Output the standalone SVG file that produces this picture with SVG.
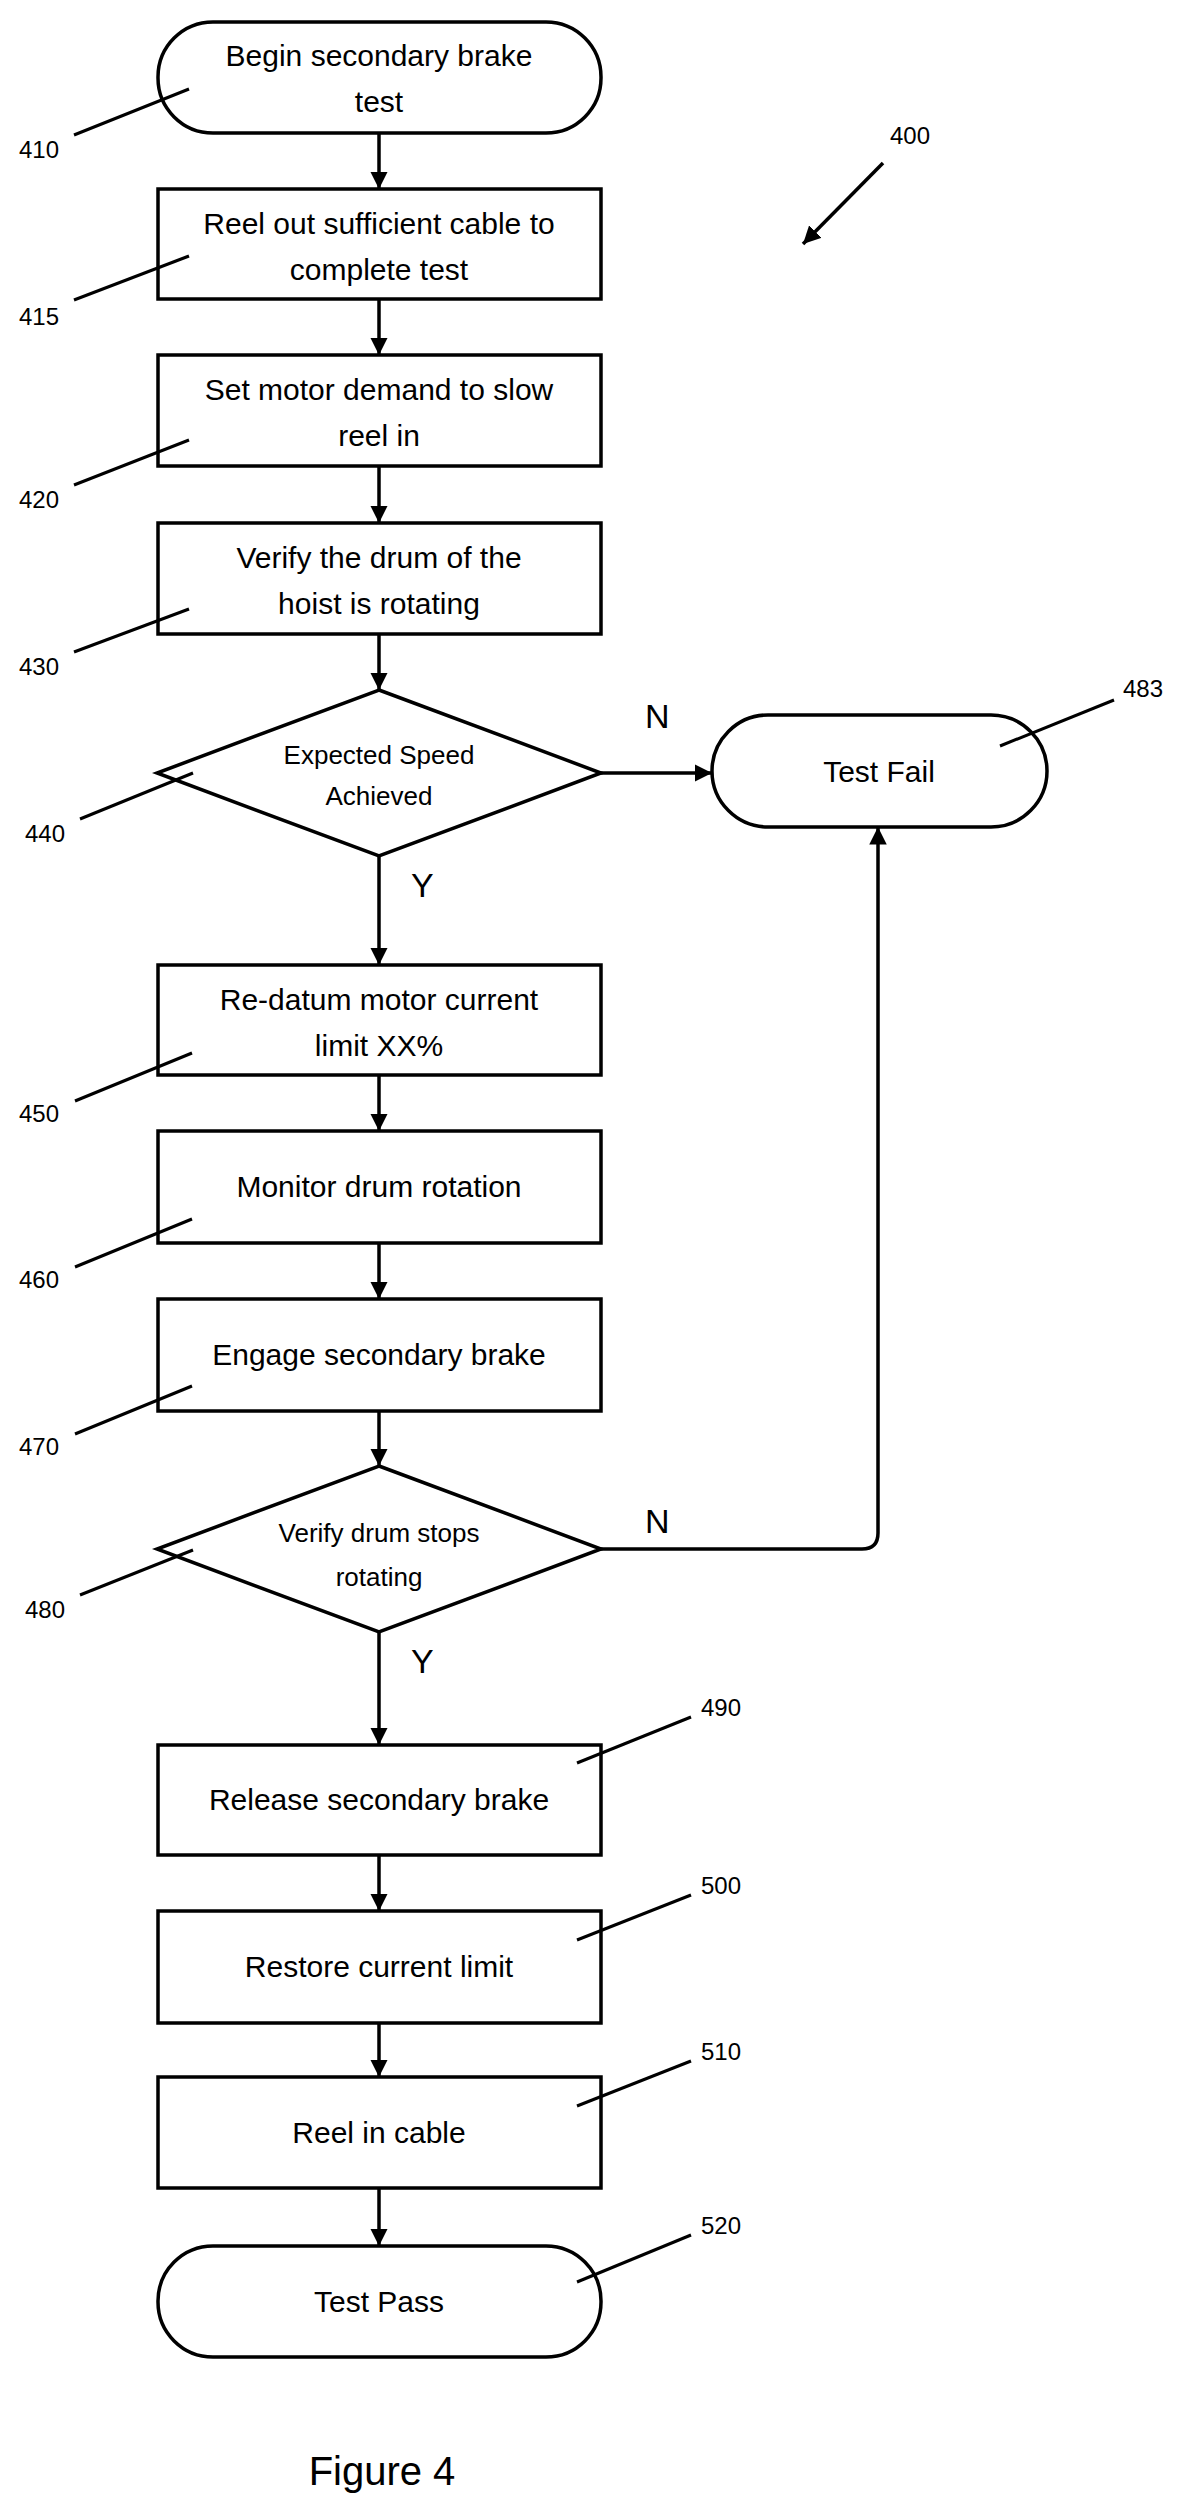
<svg xmlns="http://www.w3.org/2000/svg" width="1182" height="2511" viewBox="0 0 1182 2511">
<defs>
<style>
.s{fill:#fff;stroke:#000;stroke-width:3.5}
.c{fill:none;stroke:#000;stroke-width:3.5}
.l{fill:none;stroke:#000;stroke-width:3}
text{font-family:"Liberation Sans",Arial,sans-serif;fill:#000}
.t{font-size:30px;text-anchor:middle}
.d{font-size:26px;text-anchor:middle}
.n{font-size:24px}
</style>
<marker id="a" viewBox="0 0 10 10" refX="10" refY="5" markerWidth="5" markerHeight="5" orient="auto" markerUnits="strokeWidth"><path d="M0,0L10,5L0,10z" fill="#000"/></marker>
</defs>
<g id="connectors">
<path class="c" marker-end="url(#a)" d="M379,133V189"/>
<path class="c" marker-end="url(#a)" d="M379,299V355"/>
<path class="c" marker-end="url(#a)" d="M379,466V523"/>
<path class="c" marker-end="url(#a)" d="M379,634V690"/>
<path class="c" marker-end="url(#a)" d="M601,773H712"/>
<path class="c" marker-end="url(#a)" d="M379,856V965"/>
<path class="c" marker-end="url(#a)" d="M379,1075V1131"/>
<path class="c" marker-end="url(#a)" d="M379,1243V1299"/>
<path class="c" marker-end="url(#a)" d="M379,1411V1466"/>
<path class="c" marker-end="url(#a)" d="M601,1549H862Q878,1549 878,1533V827"/>
<path class="c" marker-end="url(#a)" d="M379,1632V1745"/>
<path class="c" marker-end="url(#a)" d="M379,1855V1911"/>
<path class="c" marker-end="url(#a)" d="M379,2023V2077"/>
<path class="c" marker-end="url(#a)" d="M379,2188V2246"/>
<path class="c" marker-end="url(#a)" d="M883,163L803,244"/>
<text x="645" y="728" font-size="34">N</text>
<text x="645" y="1533" font-size="34">N</text>
<text x="411" y="897" font-size="34">Y</text>
<text x="411" y="1673" font-size="34">Y</text>
</g>
<g id="n410"><rect class="s" x="158" y="22" width="443" height="111" rx="55"/><text class="t" x="379" y="66">Begin secondary brake</text><text class="t" x="379" y="112">test</text><path class="l" d="M74,135L189,89"/><text class="n" x="19" y="158">410</text></g>
<g id="n415"><rect class="s" x="158" y="189" width="443" height="110"/><text class="t" x="379" y="234">Reel out sufficient cable to</text><text class="t" x="379" y="280">complete test</text><path class="l" d="M74,300L189,256"/><text class="n" x="19" y="325">415</text></g>
<g id="n420"><rect class="s" x="158" y="355" width="443" height="111"/><text class="t" x="379" y="400">Set motor demand to slow</text><text class="t" x="379" y="446">reel in</text><path class="l" d="M74,485L189,440"/><text class="n" x="19" y="508">420</text></g>
<g id="n430"><rect class="s" x="158" y="523" width="443" height="111"/><text class="t" x="379" y="568">Verify the drum of the</text><text class="t" x="379" y="614">hoist is rotating</text><path class="l" d="M74,652L189,609"/><text class="n" x="19" y="675">430</text></g>
<g id="n440"><path class="s" d="M379,690L601,773L379,856L157,773z"/><text class="d" x="379" y="764">Expected Speed</text><text class="d" x="379" y="805">Achieved</text><path class="l" d="M80,819L193,773"/><text class="n" x="25" y="842">440</text></g>
<g id="n483"><rect class="s" x="712" y="715" width="335" height="112" rx="56"/><text class="t" x="879" y="782">Test Fail</text><path class="l" d="M1000,746L1114,700"/><text class="n" x="1123" y="697">483</text></g>
<g id="n450"><rect class="s" x="158" y="965" width="443" height="110"/><text class="t" x="379" y="1010">Re-datum motor current</text><text class="t" x="379" y="1056">limit  XX%</text><path class="l" d="M75,1101L192,1053"/><text class="n" x="19" y="1122">450</text></g>
<g id="n460"><rect class="s" x="158" y="1131" width="443" height="112"/><text class="t" x="379" y="1197">Monitor drum rotation</text><path class="l" d="M75,1267L192,1219"/><text class="n" x="19" y="1288">460</text></g>
<g id="n470"><rect class="s" x="158" y="1299" width="443" height="112"/><text class="t" x="379" y="1365">Engage secondary brake</text><path class="l" d="M75,1434L192,1386"/><text class="n" x="19" y="1455">470</text></g>
<g id="n480"><path class="s" d="M379,1466L601,1549L379,1632L157,1549z"/><text class="d" x="379" y="1542">Verify drum stops</text><text class="d" x="379" y="1586">rotating</text><path class="l" d="M80,1595L193,1550"/><text class="n" x="25" y="1618">480</text></g>
<g id="n490"><rect class="s" x="158" y="1745" width="443" height="110"/><text class="t" x="379" y="1810">Release secondary brake</text><path class="l" d="M577,1763L691,1717"/><text class="n" x="701" y="1716">490</text></g>
<g id="n500"><rect class="s" x="158" y="1911" width="443" height="112"/><text class="t" x="379" y="1977">Restore current limit</text><path class="l" d="M577,1940L691,1895"/><text class="n" x="701" y="1894">500</text></g>
<g id="n510"><rect class="s" x="158" y="2077" width="443" height="111"/><text class="t" x="379" y="2143">Reel in cable</text><path class="l" d="M577,2106L691,2061"/><text class="n" x="701" y="2060">510</text></g>
<g id="n520"><rect class="s" x="158" y="2246" width="443" height="111" rx="55"/><text class="t" x="379" y="2312">Test Pass</text><path class="l" d="M577,2282L691,2235"/><text class="n" x="701" y="2234">520</text></g>
<text x="890" y="144" class="n">400</text>
<text x="382" y="2485" font-size="40" text-anchor="middle">Figure 4</text>
</svg>
